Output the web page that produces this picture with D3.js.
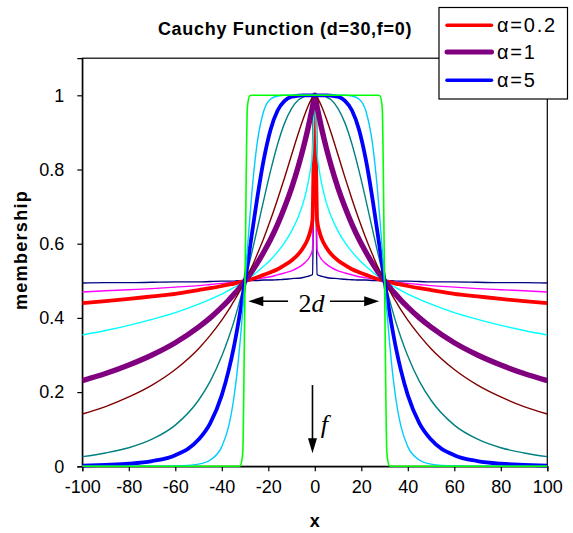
<!DOCTYPE html>
<html><head><meta charset="utf-8">
<script src="https://cdn.jsdelivr.net/npm/d3@7"></script>
<style>
html,body{margin:0;padding:0;background:#fff;}
text{font-family:Arial,"Liberation Sans",Helvetica,sans-serif;}
</style></head>
<body>
<svg id="chart" width="573" height="533"></svg>
<script>
// x sample positions
const xs = [-100,-90,-80,-70,-60,-50,-45,-40,-37,-35,-33,-32,-31,-30,-29,-28,-27,-25,-22,-19,-16,-13,-10,-7,-5,-3,-2,-1,0,
  1,2,3,5,7,10,13,16,19,22,25,27,28,29,30,31,32,33,35,37,40,45,50,60,70,80,90,100];

const navy = [0.494,0.495,0.495,0.496,0.497,0.497,0.498,0.499,0.499,0.499,0.500,0.500,0.500,0.500,0.500,0.500,0.501,0.501,0.502,0.502,0.503,0.504,0.506,0.507,0.509,0.512,0.514,0.517,1,
  0.517,0.514,0.512,0.509,0.507,0.506,0.504,0.503,0.502,0.502,0.501,0.501,0.500,0.500,0.500,0.500,0.500,0.500,0.499,0.499,0.499,0.498,0.497,0.497,0.496,0.495,0.495,0.494];
const magenta = [0.470,0.473,0.476,0.479,0.483,0.487,0.490,0.493,0.495,0.496,0.498,0.498,0.499,0.500,0.501,0.502,0.503,0.505,0.508,0.511,0.516,0.521,0.527,0.536,0.545,0.557,0.567,0.584,1,
  0.584,0.567,0.557,0.545,0.536,0.527,0.521,0.516,0.511,0.508,0.505,0.503,0.502,0.501,0.500,0.499,0.498,0.498,0.496,0.495,0.493,0.490,0.487,0.483,0.479,0.476,0.473,0.470];
const alpha02 = [0.440,0.445,0.451,0.458,0.465,0.475,0.480,0.486,0.490,0.492,0.495,0.497,0.498,0.500,0.502,0.503,0.505,0.509,0.516,0.523,0.531,0.542,0.555,0.572,0.589,0.613,0.632,0.664,1,
  0.664,0.632,0.613,0.589,0.572,0.555,0.542,0.531,0.523,0.516,0.509,0.505,0.503,0.502,0.500,0.498,0.497,0.495,0.492,0.490,0.486,0.480,0.475,0.465,0.458,0.451,0.445,0.440];
const cyan = [0.354,0.366,0.380,0.396,0.414,0.437,0.450,0.464,0.474,0.481,0.488,0.492,0.496,0.500,0.504,0.509,0.513,0.523,0.539,0.557,0.578,0.603,0.634,0.674,0.710,0.760,0.795,0.846,1,
  0.846,0.795,0.760,0.710,0.674,0.634,0.603,0.578,0.557,0.539,0.523,0.513,0.509,0.504,0.500,0.496,0.492,0.488,0.481,0.474,0.464,0.450,0.437,0.414,0.396,0.380,0.366,0.354];
const alpha1 = [0.231,0.250,0.273,0.300,0.333,0.375,0.400,0.429,0.448,0.462,0.476,0.484,0.492,0.500,0.508,0.517,0.526,0.545,0.577,0.612,0.652,0.698,0.750,0.811,0.857,0.909,0.938,0.968,1,
  0.968,0.938,0.909,0.857,0.811,0.750,0.698,0.652,0.612,0.577,0.545,0.526,0.517,0.508,0.500,0.492,0.484,0.476,0.462,0.448,0.429,0.400,0.375,0.333,0.300,0.273,0.250,0.231];
const darkred = [0.141,0.161,0.187,0.219,0.261,0.317,0.353,0.394,0.422,0.443,0.464,0.476,0.488,0.500,0.513,0.526,0.539,0.568,0.614,0.665,0.720,0.778,0.839,0.899,0.936,0.969,0.983,0.994,1,
  0.994,0.983,0.969,0.936,0.899,0.839,0.778,0.720,0.665,0.614,0.568,0.539,0.526,0.513,0.500,0.488,0.476,0.464,0.443,0.422,0.394,0.353,0.317,0.261,0.219,0.187,0.161,0.141];
const teal = [0.026,0.036,0.050,0.073,0.111,0.178,0.229,0.297,0.348,0.386,0.429,0.452,0.475,0.500,0.525,0.552,0.578,0.633,0.717,0.797,0.868,0.925,0.964,0.988,0.995,0.999,1.000,1.000,1,
  1.000,1.000,0.999,0.995,0.988,0.964,0.925,0.868,0.797,0.717,0.633,0.578,0.552,0.525,0.500,0.475,0.452,0.429,0.386,0.348,0.297,0.229,0.178,0.111,0.073,0.050,0.036,0.026];
const alpha5 = [0.002,0.004,0.007,0.014,0.030,0.072,0.116,0.192,0.260,0.316,0.383,0.420,0.459,0.500,0.542,0.585,0.629,0.713,0.825,0.908,0.959,0.985,0.996,0.999,1.000,1.000,1.000,1.000,1,
  1.000,1.000,1.000,1.000,0.999,0.996,0.985,0.959,0.908,0.825,0.713,0.629,0.585,0.542,0.500,0.459,0.420,0.383,0.316,0.260,0.192,0.116,0.072,0.030,0.014,0.007,0.004,0.002];
const skyblue = [0.000,0.000,0.000,0.000,0.001,0.006,0.017,0.053,0.109,0.176,0.278,0.344,0.419,0.500,0.584,0.666,0.742,0.861,0.957,0.990,0.998,1.000,1.000,1.000,1.000,1.000,1.000,1.000,1,
  1.000,1.000,1.000,1.000,1.000,1.000,1.000,0.998,0.990,0.957,0.861,0.742,0.666,0.584,0.500,0.419,0.344,0.278,0.176,0.109,0.053,0.017,0.006,0.001,0.000,0.000,0.000,0.000];
const green = [0,0,0,0,0,0,0,0,0,0,0,0.002,0.036,0.500,0.967,0.999,1,1,1,1,1,1,1,1,1,1,1,1,1,
  1,1,1,1,1,1,1,1,1,1,1,1,0.999,0.967,0.500,0.036,0.002,0,0,0,0,0,0,0,0,0,0,0];

const xTicks = [-100,-80,-60,-40,-20,0,20,40,60,80,100];
const yTicks = [0,0.2,0.4,0.6,0.8,1];
const legendLabels = ["α=0.2","α=1","α=5"];

const series = [
  {v: navy,    color:"#000080", w:1.4},
  {v: magenta, color:"#FF00FF", w:1.4},
  {v: alpha02, color:"#FF0000", w:3.8, legend:0},
  {v: cyan,    color:"#00FFFF", w:1.4},
  {v: alpha1,  color:"#800080", w:5.4, legend:1},
  {v: darkred, color:"#800000", w:1.4},
  {v: teal,    color:"#008080", w:1.4},
  {v: alpha5,  color:"#0000FF", w:3.8, legend:2},
  {v: skyblue, color:"#00CCFF", w:1.4},
  {v: green,   color:"#00FF00", w:1.6}
];

const svg = d3.select("#chart");
const L = 82.3, R = 547.3, B = 466.3;
const x = d3.scaleLinear().domain([-100,100]).range([L,R]);
const y = d3.scaleLinear().domain([0,1.1]).range([B, B-1.1*371]);
const T = y(1.1);

// frame
svg.append("rect").attr("x",L).attr("y",T).attr("width",R-L).attr("height",B-T)
  .attr("fill","none").attr("stroke","#000").attr("stroke-width",1.2);

// axes
const yAxis = svg.append("g").attr("transform",`translate(${L},0)`)
  .call(d3.axisLeft(y).tickValues(yTicks).tickSize(5).tickPadding(13).tickFormat(d=>String(d)));
const xAxis = svg.append("g").attr("transform",`translate(0,${B})`)
  .call(d3.axisBottom(x).tickValues(xTicks).tickSize(5).tickPadding(9).tickFormat(d=>String(d)));
[yAxis,xAxis].forEach(a=>{
  a.select(".domain").attr("stroke","#000").attr("stroke-width",1.2);
  a.selectAll(".tick line").attr("stroke","#000").attr("stroke-width",1.2);
  a.selectAll(".tick text").attr("fill","#000").style("font-size","18px")
    .style("font-family","Arial, 'Liberation Sans', sans-serif");
});

// curves
const clipId = "plotclip";
svg.append("clipPath").attr("id",clipId).append("rect")
  .attr("x",L).attr("y",T).attr("width",R-L).attr("height",B-T+3);
const line = d3.line().x((d,i)=>x(xs[i])).y(d=>y(d)).curve(d3.curveMonotoneX);
const g = svg.append("g").attr("clip-path",`url(#${clipId})`);
series.forEach(s=>{
  g.append("path").attr("d",line(s.v)).attr("fill","none")
    .attr("stroke",s.color).attr("stroke-width",s.w).attr("stroke-linejoin","round");
});

// annotations: 2d arrows
function arrowHead(tipX, tipY, dir, len, half){
  let p;
  if(dir==="left") p=[[tipX,tipY],[tipX+len,tipY-half],[tipX+len,tipY+half]];
  else if(dir==="right") p=[[tipX,tipY],[tipX-len,tipY-half],[tipX-len,tipY+half]];
  else p=[[tipX,tipY],[tipX-half,tipY-len],[tipX+half,tipY-len]];
  svg.append("polygon").attr("points",p.map(q=>q.join(",")).join(" ")).attr("fill","#000");
}
const ay = y(0.445);
svg.append("line").attr("x1",x(-11.5)).attr("x2",x(-28.6)+10).attr("y1",ay).attr("y2",ay)
  .attr("stroke","#000").attr("stroke-width",1.6);
arrowHead(x(-28.6), ay, "left", 15, 5);
svg.append("line").attr("x1",x(6.5)).attr("x2",x(27.7)-10).attr("y1",ay).attr("y2",ay)
  .attr("stroke","#000").attr("stroke-width",1.6);
arrowHead(x(27.7), ay, "right", 15, 5);
const t2d = svg.append("text").attr("x",x(-1.4)).attr("y",y(0.417)).attr("text-anchor","middle")
  .style("font-family","'Liberation Serif','Times New Roman',serif").style("font-size","26px");
t2d.append("tspan").text("2");
t2d.append("tspan").style("font-style","italic").text("d");

// f arrow
const fx = x(-1);
svg.append("line").attr("x1",fx).attr("x2",fx).attr("y1",y(0.219)).attr("y2",y(0.035)-10)
  .attr("stroke","#000").attr("stroke-width",1.6);
arrowHead(fx, y(0.035), "down", 15, 4.5);
svg.append("text").attr("x",x(2.6)).attr("y",y(0.09))
  .style("font-family","'Liberation Serif','Times New Roman',serif").style("font-size","26px")
  .style("font-style","italic").text("f");

// title & axis labels
svg.append("text").attr("x",285).attr("y",35).attr("text-anchor","middle")
  .style("font-size","18px").style("font-weight","bold").style("letter-spacing","0.7px")
  .text("Cauchy Function (d=30,f=0)");
svg.append("text").attr("transform","translate(27,250) rotate(-90)").attr("text-anchor","middle")
  .style("font-size","18px").style("font-weight","bold").style("letter-spacing","1.3px")
  .text("membership");
svg.append("text").attr("x",x(0)).attr("y",527).attr("text-anchor","middle")
  .style("font-size","18px").style("font-weight","bold").text("x");

// legend
const lg = svg.append("g");
lg.append("rect").attr("x",439).attr("y",7.5).attr("width",128.5).attr("height",91.5)
  .attr("fill","#fff").attr("stroke","#000").attr("stroke-width",1.2);
const legYs = [25.3, 52, 80.3];
series.filter(s=>s.legend!==undefined).forEach(s=>{
  const ly = legYs[s.legend];
  lg.append("line").attr("x1",447).attr("x2",491.5).attr("y1",ly).attr("y2",ly)
    .attr("stroke",s.color).attr("stroke-width",s.legend===1?5:3.5).attr("stroke-linecap","round");
  lg.append("text").attr("x",497).attr("y",ly+7).style("font-size","20px").style("letter-spacing","1.8px")
    .text(legendLabels[s.legend]);
});
</script>
</body></html>
